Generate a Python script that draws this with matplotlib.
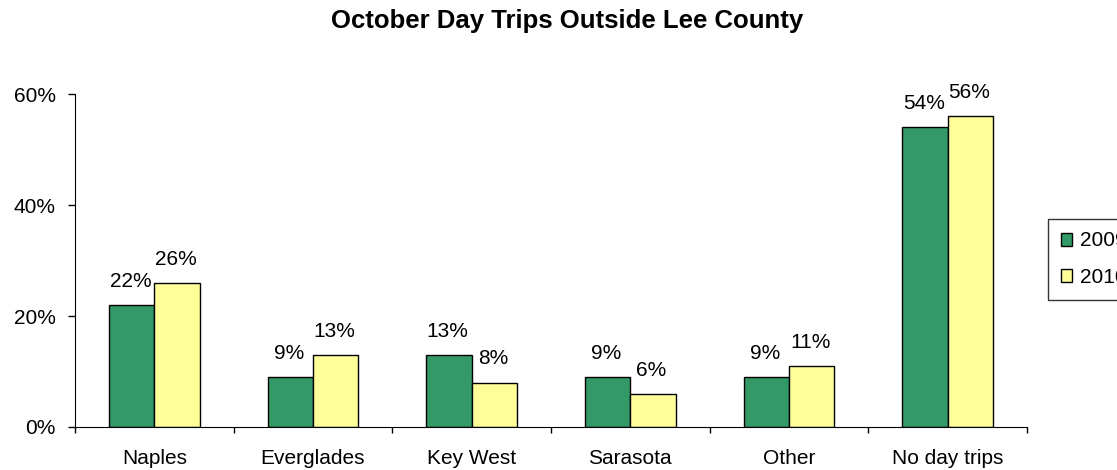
import matplotlib
matplotlib.use("Agg")
import matplotlib.pyplot as plt
import numpy as np
from matplotlib.ticker import FixedLocator, PercentFormatter

categories = ["Naples", "Everglades", "Key West", "Sarasota", "Other", "No day trips"]
series_names = ["2009", "2010"]
values_2009 = [22, 9, 13, 9, 9, 54]
values_2010 = [26, 13, 8, 6, 11, 56]

GREEN = "#339966"
YELLOW = "#FFFF99"
FS = 15

plt.rcParams["font.family"] = ["Liberation Sans", "DejaVu Sans"]

fig = plt.figure(figsize=(11.17, 4.70), dpi=100)
ax = fig.add_axes([75 / 1117, 43 / 470, (1027 - 75) / 1117, (427 - 94) / 470])

x = np.arange(len(categories))
w = 0.285
b1 = ax.bar(x - w / 2, values_2009, w, color=GREEN, edgecolor="black", linewidth=1, label=series_names[0])
b2 = ax.bar(x + w / 2, values_2010, w, color=YELLOW, edgecolor="black", linewidth=1, label=series_names[1])

# value labels above each bar
for bars, vals in ((b1, values_2009), (b2, values_2010)):
    for r, v in zip(bars, vals):
        ax.annotate(f"{v}%", (r.get_x() + r.get_width() / 2, v), xytext=(-1, 17),
                    textcoords="offset points", ha="center", va="center", fontsize=FS)

ax.set_xlim(-0.5, len(categories) - 0.5)
ax.set_ylim(0, 60)
ax.set_yticks([0, 20, 40, 60])
ax.yaxis.set_major_formatter(PercentFormatter(decimals=0))
ax.set_xticks(x)
ax.set_xticklabels(categories)
ax.xaxis.set_minor_locator(FixedLocator(np.arange(-0.5, len(categories), 1)))
ax.tick_params(axis="x", which="major", length=0, pad=16, labelsize=FS)
ax.tick_params(axis="x", which="minor", length=4.5, width=1, direction="out")
ax.tick_params(axis="y", length=5, width=1, labelsize=FS, pad=9)
ax.spines["top"].set_visible(False)
ax.spines["right"].set_visible(False)

fig.suptitle("October Day Trips Outside Lee County", x=0.508, y=0.98, fontsize=18.5, fontweight="bold")

leg = fig.legend(loc="upper left", bbox_to_anchor=(1048 / 1117, 1 - 219 / 470), fontsize=FS,
                 frameon=True, fancybox=False, edgecolor="black", handlelength=0.57, handleheight=0.57,
                 handletextpad=0.35, borderpad=0.6, labelspacing=0.85, borderaxespad=0)
leg.get_frame().set_linewidth(1)

fig.savefig("out.png", dpi=100)
